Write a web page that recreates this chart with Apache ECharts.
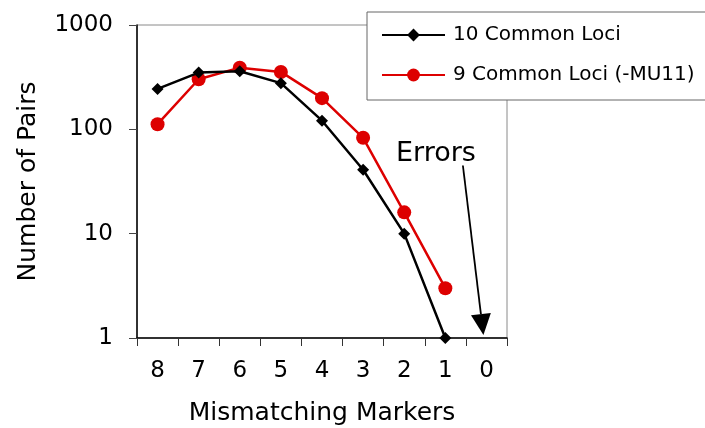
<!DOCTYPE html>
<html>
<head>
<meta charset="utf-8">
<script src="https://cdn.jsdelivr.net/npm/echarts@6/dist/echarts.min.js"></script>
<style>
  html, body { margin: 0; padding: 0; background: #fff; }
  #chart { width: 705px; height: 428px; }
</style>
</head>
<body>
<div id="chart"></div>
<script>
// Mismatching markers between pairs, counted from 8 down to 0
const categories = ['8', '7', '6', '5', '4', '3', '2', '1', '0'];
const loci10 = [244, 350, 360, 277, 121, 41, 10, 1, null];
const loci9 = [112, 302, 390, 355, 199, 83, 16, 3, null];
const seriesNames = ['10 Common Loci', '9 Common Loci (-MU11)'];

const FONT = '"DejaVu Sans", "Noto Sans", sans-serif';

const chart = echarts.init(document.getElementById('chart'), null, { renderer: 'canvas' });

chart.setOption({
  animation: false,
  backgroundColor: '#fff',
  grid: {
    left: 137, right: 198, top: 25, bottom: 90,
    outerBoundsMode: 'none',
    containLabel: false,
    show: true, borderColor: '#8a8a8a', borderWidth: 1, backgroundColor: 'transparent'
  },
  legend: {
    orient: 'vertical',
    left: 367, top: 12,
    padding: [13, 14, 15, 14],
    itemGap: 20,
    itemWidth: 63, itemHeight: 16,
    backgroundColor: '#fff',
    borderColor: '#666', borderWidth: 1,
    textStyle: { fontFamily: FONT, fontSize: 20, color: '#000', padding: [0, 0, 0, 3] },
    data: seriesNames
  },
  xAxis: {
    type: 'category',
    data: categories,
    boundaryGap: true,
    name: 'Mismatching Markers',
    nameLocation: 'middle',
    nameGap: 63,
    nameTextStyle: { fontFamily: FONT, fontSize: 25, color: '#000' },
    axisLine: { lineStyle: { color: '#000', width: 1.5 } },
    axisTick: { show: true, length: 8, alignWithLabel: false, lineStyle: { color: '#333' } },
    axisLabel: { fontFamily: FONT, fontSize: 23, color: '#000', margin: 22 },
    splitLine: { show: false }
  },
  yAxis: {
    type: 'log',
    logBase: 10,
    min: 1, max: 1000,
    name: 'Number of Pairs',
    nameLocation: 'middle',
    nameGap: 96,
    nameTextStyle: { fontFamily: FONT, fontSize: 25, color: '#000' },
    axisLine: { show: true, lineStyle: { color: '#000', width: 1.5 } },
    axisTick: { show: true, length: 8, lineStyle: { color: '#444' } },
    axisLabel: {
      fontFamily: FONT, fontSize: 23, color: '#000', margin: 24,
      formatter: v => String(Math.round(v))
    },
    splitLine: { show: false },
    minorTick: { show: false }
  },
  series: [
    {
      name: seriesNames[0],
      type: 'line',
      data: loci10,
      symbol: 'diamond',
      symbolSize: 12,
      showAllSymbol: true,
      z: 3,
      lineStyle: { color: '#000', width: 2.5 },
      itemStyle: { color: '#000' }
    },
    {
      name: seriesNames[1],
      type: 'line',
      data: loci9,
      symbol: 'circle',
      symbolSize: 14,
      showAllSymbol: true,
      z: 2,
      lineStyle: { color: '#dd0000', width: 2.5 },
      itemStyle: { color: '#dd0000' }
    }
  ]
});

// "Errors" callout: an arrow pointing at the empty 0-mismatch slot
function drawCallout() {
  const tip = chart.convertToPixel({ xAxisIndex: 0, yAxisIndex: 0 }, ['0', 1]);
  const left = chart.convertToPixel({ xAxisIndex: 0, yAxisIndex: 0 }, ['1', 45]);
  const tx = tip[0] - 3, ty = tip[1] - 3;
  const sx = (left[0] + tip[0]) / 2 - 3, sy = left[1];
  const dx = tx - sx, dy = ty - sy;
  const len = Math.sqrt(dx * dx + dy * dy);
  const ux = dx / len, uy = dy / len;
  const headLen = 21, headHalf = 10;
  const bx = tx - ux * headLen, by = ty - uy * headLen;
  chart.setOption({
    graphic: [
      {
        type: 'line',
        shape: { x1: sx, y1: sy, x2: bx, y2: by },
        style: { stroke: '#000', lineWidth: 1.8 },
        z: 10
      },
      {
        type: 'polygon',
        shape: { points: [[tx, ty], [bx - uy * headHalf, by + ux * headHalf], [bx + uy * headHalf, by - ux * headHalf]] },
        style: { fill: '#000' },
        z: 10
      },
      {
        type: 'text',
        x: sx - 27, y: sy + 2,
        style: {
          text: 'Errors',
          fontFamily: FONT, fontSize: 27, fill: '#000',
          align: 'center', verticalAlign: 'bottom'
        },
        z: 10
      }
    ]
  });
}
drawCallout();
</script>
</body>
</html>
